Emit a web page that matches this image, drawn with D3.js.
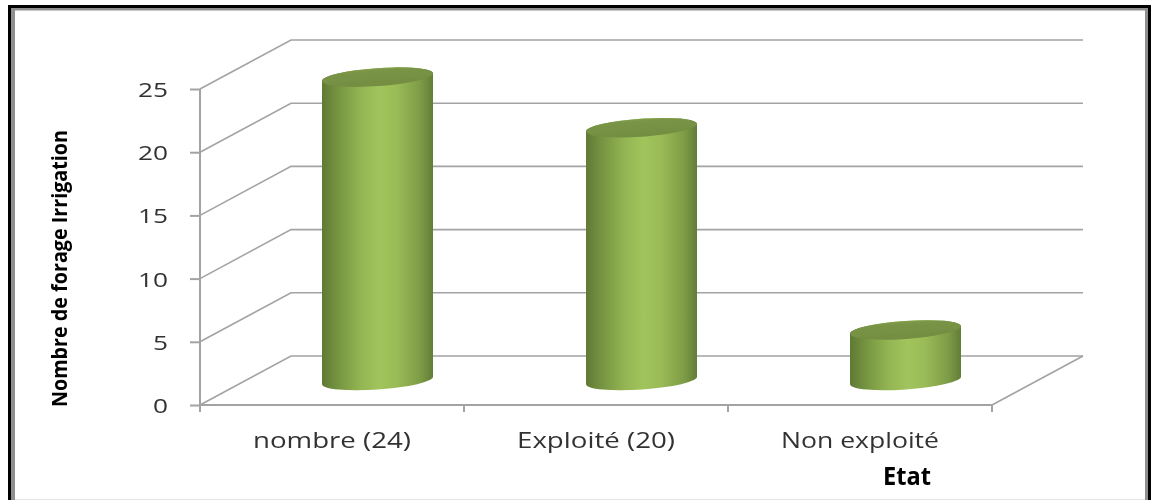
<!DOCTYPE html>
<html><head><meta charset="utf-8">
<script src="https://cdn.jsdelivr.net/npm/d3@7"></script>
<style>html,body{margin:0;padding:0;background:#fff}svg{display:block}</style>
</head><body><svg id="c" width="1152" height="500"></svg>
<script>
const categories = ["nombre (24)", "Exploité (20)", "Non exploité"];
const values = [24, 20, 4];
const tickValues = [0, 5, 10, 15, 20, 25];
const yTitle = "Nombre de forage Irrigation";
const xTitle = "Etat";

const svg = d3.select("#c");
const x = d3.scaleBand().domain(categories).range([200, 992]);
const y = d3.scaleLinear().domain([0, 25]).range([405, 89]);
const depthX = 91, depthY = -49;
const rx = 55.5, ry = 9, tilt = -4;
const tiltDy = Math.sin(tilt * Math.PI / 180) * rx;

const defs = svg.append("defs");
const grad = defs.append("linearGradient").attr("id", "cyl");
[[0, "#5f7a35"], [0.12, "#72903f"], [0.35, "#94b553"], [0.52, "#a2c45c"], [0.68, "#99ba56"], [0.88, "#7f9d47"], [1, "#637d37"]]
  .forEach(([o, c]) => grad.append("stop").attr("offset", o).attr("stop-color", c));
const topGrad = defs.append("linearGradient").attr("id", "cylTop").attr("x1", 0).attr("x2", 0).attr("y1", 0).attr("y2", 1);
[[0, "#82a04b"], [0.15, "#7a9446"], [1, "#738d42"]]
  .forEach(([o, c]) => topGrad.append("stop").attr("offset", o).attr("stop-color", c));
const soft = defs.append("filter").attr("id", "soft");
soft.append("feGaussianBlur").attr("stdDeviation", 0.45);

// frame
svg.append("rect").attr("x", 9.5).attr("y", 6.5).attr("width", 1140).attr("height", 510)
  .attr("fill", "none").attr("stroke", "#000").attr("stroke-width", 3);
svg.append("rect").attr("x", 11).attr("y", 8).attr("width", 1137).attr("height", 500).attr("fill", "#8f8f8f");
svg.append("rect").attr("x", 15).attr("y", 10.5).attr("width", 1130).attr("height", 495).attr("fill", "#fff");
svg.append("line").attr("x1", 15).attr("x2", 1145).attr("y1", 499.5).attr("y2", 499.5).attr("stroke", "#e4e4e4");

const plot = svg.append("g").attr("filter", "url(#soft)");
const gridColor = "#a3a3a3";

// walls and gridlines
plot.append("g").selectAll("polyline").data(tickValues).join("polyline")
  .attr("fill", "none").attr("stroke", gridColor).attr("stroke-width", 1.6)
  .attr("points", d => [
    [x.range()[0], y(d)],
    [x.range()[0] + depthX, y(d) + depthY],
    [x.range()[1] + depthX, y(d) + depthY]
  ].join(" "));

// floor edge
plot.append("line").attr("x1", x.range()[1]).attr("y1", y(0))
  .attr("x2", x.range()[1] + depthX).attr("y2", y(0) + depthY)
  .attr("stroke", gridColor).attr("stroke-width", 1.6);

// axes
const yAxis = plot.append("g").attr("transform", `translate(${x.range()[0]},0)`)
  .call(d3.axisLeft(y).tickValues(tickValues).tickSize(10).tickPadding(22));
yAxis.selectAll("path,line").attr("stroke", gridColor).attr("stroke-width", 2);
yAxis.select(".domain").attr("d", `M0,${y(25)}V${y(0)+6}`);
yAxis.selectAll("text").attr("font-family", "Open Sans").attr("font-size", 20).attr("fill", "#333")
  .attr("dy", 7.5)
  .attr("textLength", d => String(d).length * 15).attr("lengthAdjust", "spacingAndGlyphs");

const xEdges = categories.map(c => x(c)).concat(x.range()[1]);
plot.append("line").attr("x1", x.range()[0]).attr("x2", x.range()[1]).attr("y1", y(0)).attr("y2", y(0))
  .attr("stroke", gridColor).attr("stroke-width", 2);
plot.append("g").selectAll("line").data(xEdges).join("line")
  .attr("x1", d => d).attr("x2", d => d).attr("y1", y(0)).attr("y2", y(0) + 7)
  .attr("stroke", gridColor).attr("stroke-width", 2);

plot.append("g").selectAll("text").data(categories).join("text")
  .attr("x", d => x(d) + x.bandwidth() / 2).attr("y", 448)
  .attr("text-anchor", "middle").attr("font-family", "Open Sans").attr("font-size", 21).attr("fill", "#333")
  .attr("textLength", 158).attr("lengthAdjust", "spacingAndGlyphs").text(d => d);

// cylinders
const cyl = plot.append("g").selectAll("g").data(categories.map((c, i) => ({c, v: values[i]}))).join("g");
const cx = d => x(d.c) + x.bandwidth() / 2 + depthX / 2;
const by = () => y(0) + depthY / 2;
const ty = d => y(d.v) + depthY / 2;
cyl.append("path").attr("fill", "url(#cyl)").attr("d", d =>
  `M${cx(d) - rx},${ty(d) - tiltDy}L${cx(d) - rx},${by() - tiltDy}` +
  `A${rx},${ry} ${tilt} 0 0 ${cx(d) + rx},${by() + tiltDy}` +
  `L${cx(d) + rx},${ty(d) + tiltDy}` +
  `A${rx},${ry} ${tilt} 0 0 ${cx(d) - rx},${ty(d) - tiltDy}Z`);
cyl.append("ellipse").attr("cx", cx).attr("cy", ty).attr("rx", rx).attr("ry", ry)
  .attr("transform", d => `rotate(${tilt} ${cx(d)} ${ty(d)})`).attr("fill", "url(#cylTop)");

// titles
const titles = svg.append("g").attr("filter", "url(#soft)");
titles.append("text").attr("transform", "translate(67,268.5) rotate(-90)").attr("text-anchor", "middle")
  .attr("font-family", "Open Sans").attr("font-weight", 700).attr("font-size", 21).attr("fill", "#000")
  .attr("textLength", 277).attr("lengthAdjust", "spacingAndGlyphs").text(yTitle);
titles.append("text").attr("x", 907).attr("y", 485).attr("text-anchor", "middle")
  .attr("font-family", "Open Sans").attr("font-weight", 700).attr("font-size", 25).attr("fill", "#000")
  .attr("textLength", 48).attr("lengthAdjust", "spacingAndGlyphs").text(xTitle);
</script></body></html>
